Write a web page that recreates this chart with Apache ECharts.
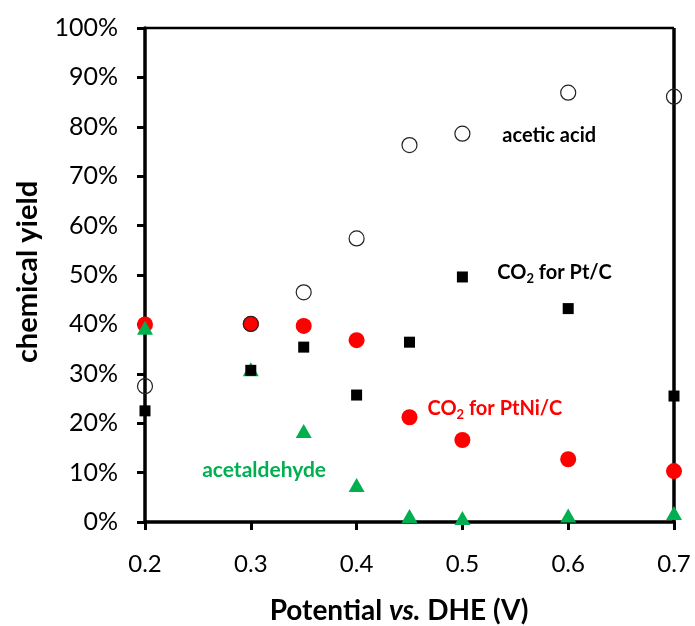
<!DOCTYPE html>
<html>
<head>
<meta charset="utf-8">
<script src="https://cdn.jsdelivr.net/npm/echarts@6/dist/echarts.min.js"></script>
<style>html,body{margin:0;padding:0;background:#fff}#c{width:695px;height:626px}</style>
</head>
<body>
<div id="c"></div>
<script>
var potentials = [0.2, 0.3, 0.35, 0.4, 0.45, 0.5, 0.6, 0.7];
var aceticAcid = [27.5, 40.1, 46.5, 57.4, 76.3, 78.6, 86.9, 86.1];
var co2PtC = [22.5, 30.7, 35.4, 25.7, 36.4, 49.6, 43.2, 25.5];
var co2PtNiC = [40.0, 40.1, 39.7, 36.8, 21.2, 16.6, 12.7, 10.3];
var acetaldehyde = [39.3, 30.9, 18.4, 7.5, 1.2, 0.8, 1.3, 1.8];
var xTicks = [0.2, 0.3, 0.4, 0.5, 0.6, 0.7];
var yTicks = [0, 10, 20, 30, 40, 50, 60, 70, 80, 90, 100];
// annotation anchors (data coords, left edge / vertical centre of the text)
var annotations = [
  {x: 0.5377, y: 78.2, text: '{b|acetic acid}'},
  {x: 0.533, y: 50.5, text: '{b|CO}{s|2}{b| for Pt/C}'},
  {x: 0.467, y: 23.0, text: '{r|CO}{rs|2}{r| for PtNi/C}'},
  {x: 0.254, y: 10.5, text: '{g|acetaldehyde}'}
];

function pairs(vals) { return potentials.map(function (p, i) { return [p, vals[i]]; }); }

var FONT = 'Lato';
var chart = echarts.init(document.getElementById('c'), null, {renderer: 'canvas'});
chart.setOption({
  animation: false,
  backgroundColor: '#fff',
  grid: {left: 145, right: 21, top: 28, bottom: 104},
  xAxis: {
    type: 'value', min: 0.2, max: 0.7, interval: 0.1,
    axisLine: {show: true, onZero: false, lineStyle: {color: '#000', width: 3.5}},
    axisTick: {show: true, inside: false, length: 8, lineStyle: {color: '#000', width: 3}},
    axisLabel: {fontFamily: FONT, fontSize: 24, color: '#000', margin: 30,
      formatter: function (v) { return (Math.round(v * 10) / 10).toFixed(1); }},
    splitLine: {show: false}
  },
  yAxis: {
    type: 'value', min: 0, max: 100, interval: 10,
    axisLine: {show: true, lineStyle: {color: '#000', width: 3.5}},
    axisTick: {show: true, inside: false, length: 8, lineStyle: {color: '#000', width: 3}},
    axisLabel: {fontFamily: FONT, fontSize: 25, color: '#000', margin: 27,
      formatter: function (v) { return v + '%'; }},
    splitLine: {show: false}
  },
  series: [
    {type: 'scatter', name: 'CO2 PtNi/C', data: pairs(co2PtNiC), symbol: 'circle', symbolSize: 16,
      itemStyle: {color: '#FF0000', opacity: 1}, z: 2},
    {type: 'scatter', name: 'acetic acid', data: pairs(aceticAcid), symbol: 'circle', symbolSize: 15,
      itemStyle: {color: 'rgba(0,0,0,0)', borderColor: '#222', borderWidth: 1.2, opacity: 1}, z: 3},
    {type: 'scatter', name: 'acetaldehyde', data: pairs(acetaldehyde), symbol: 'triangle', symbolSize: [16, 14],
      itemStyle: {color: '#00B050', opacity: 1}, z: 4},
    {type: 'scatter', name: 'CO2 Pt/C', data: pairs(co2PtC), symbol: 'rect', symbolSize: 11,
      itemStyle: {color: '#000', opacity: 1}, z: 5},
    {type: 'scatter', name: 'labels', silent: true, symbolSize: 0, z: 6,
      itemStyle: {opacity: 1},
      data: annotations.map(function (a) { return {value: [a.x, a.y], label: {formatter: a.text}}; }),
      label: {show: true, position: 'right', distance: 0, align: 'left', verticalAlign: 'middle', opacity: 1,
        rich: {
          b: {fontFamily: FONT, fontSize: 20, fontWeight: 'bold', color: '#000'},
          s: {fontFamily: FONT, fontSize: 13, fontWeight: 'bold', color: '#000', verticalAlign: 'bottom', padding: [12, 0, 0, 0]},
          r: {fontFamily: FONT, fontSize: 20, fontWeight: 'bold', color: '#FF0000'},
          rs: {fontFamily: FONT, fontSize: 13, fontWeight: 'bold', color: '#FF0000', verticalAlign: 'bottom', padding: [12, 0, 0, 0]},
          g: {fontFamily: FONT, fontSize: 21, fontWeight: 'bold', color: '#00B050'}
        }}}
  ]
});
// frame lines and axis titles
var tl = chart.convertToPixel({gridIndex: 0}, [0.2, 100]);
var br = chart.convertToPixel({gridIndex: 0}, [0.7, 0]);
chart.setOption({graphic: [
  {type: 'line', shape: {x1: tl[0], y1: tl[1], x2: br[0], y2: tl[1]}, style: {stroke: '#000', lineWidth: 2.5}, z: 1},
  {type: 'line', shape: {x1: br[0], y1: tl[1], x2: br[0], y2: br[1]}, style: {stroke: '#000', lineWidth: 3.5}, z: 1},
  {type: 'text', x: 399, y: 611, z: 10,
    style: {text: '{a|Potential }{i|vs.}{a| DHE (V)}', align: 'center', verticalAlign: 'middle',
      rich: {
        a: {fontFamily: FONT, fontSize: 28, fontWeight: 'bold', fill: '#000'},
        i: {fontFamily: FONT, fontSize: 28, fontWeight: 'bold', fontStyle: 'italic', fill: '#000'}
      }}},
  {type: 'text', x: 28, y: 272, rotation: Math.PI / 2, z: 10,
    style: {text: 'chemical yield', align: 'center', verticalAlign: 'middle',
      fontFamily: FONT, fontSize: 29, fontWeight: 'bold', fill: '#000'}}
]});
</script>
</body>
</html>
